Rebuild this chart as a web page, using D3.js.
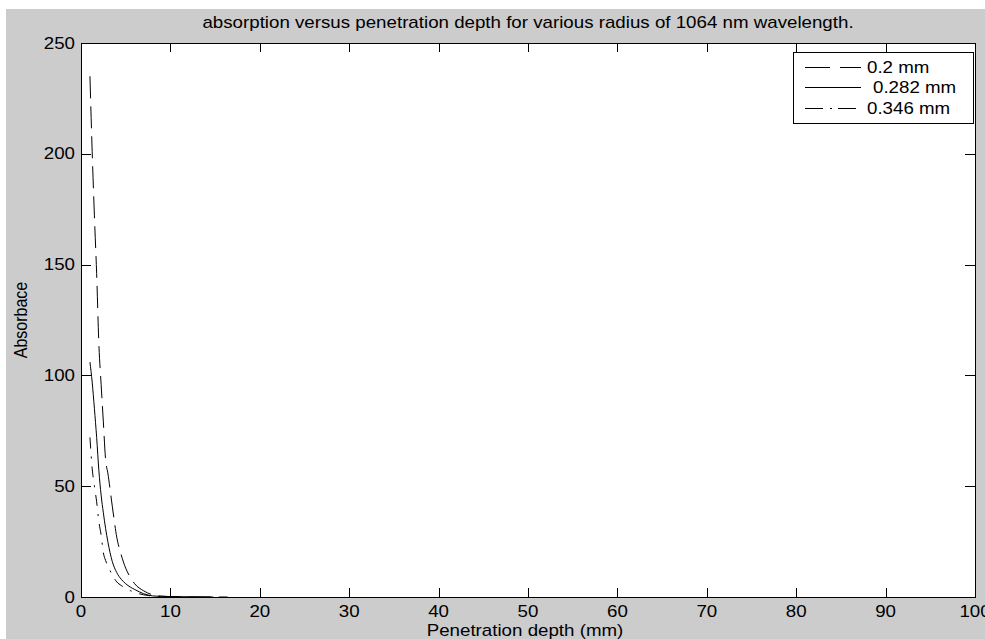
<!DOCTYPE html>
<html>
<head>
<meta charset="utf-8">
<script src="https://cdnjs.cloudflare.com/ajax/libs/d3/7.8.5/d3.min.js"></script>
<style>
	body { margin: 0; background: #ffffff; }
	text { font-family: "Liberation Sans", Arial, sans-serif; font-size: 16px; fill: #000000; }
</style>
</head>
<body>
<svg id="svg_canvas" width="985" height="639"></svg>
<script>
// values
var depth   = [1, 1.25, 1.5, 1.75, 2, 2.25, 2.5, 2.75, 3, 3.5, 4, 4.5, 5, 5.5, 6, 7, 8, 9, 10, 12, 14.8, 16.4];
var abs02   = [235, 201, 172, 146, 114, 96, 79, 62, 56, 41, 27, 19, 13, 9, 6, 2.8, 1, 0.4, 0.2, 0.05, 0, 0];
var abs0282 = [106, 97, 85, 72, 57, 46, 38, 31, 25, 16, 11, 8, 6, 4.5, 3.4, 1.5, 0.5, 0.3, 0.2, 0.1, 0, null];
var abs0346 = [72, 58, 50, 43, 34, 28, 20, 16.5, 14, 10, 6.8, 5.2, 3.9, 2.9, 2.1, 1.0, 0.4, 0.1, 0.05, 0, null, null];

var seriesNames = ["0.2 mm", "0.282 mm", "0.346 mm"];
var seriesValues = [abs02, abs0282, abs0346];

var xTicks = [0, 10, 20, 30, 40, 50, 60, 70, 80, 90, 100];
var yTicks = [0, 50, 100, 150, 200, 250];

var titleText = "absorption versus penetration depth for various radius of 1064 nm wavelength.";
var xLabel = "Penetration depth (mm)";
var yLabel = "Absorbace";

// the picture is a little stretched sideways, text too
var stretch = 1.17;
// dash styles: on the curves, and in the legend samples
var curveDash  = ["22,8", null, "11,8,2,8"];
var legendDash = ["25,10", null, "18,7,2,6"];

var svgElement = d3.select("#svg_canvas");

var plotLeft = 81, plotRight = 975, plotTop = 43, plotBottom = 597;

var xScale = d3.scaleLinear().domain([0, 100]).range([plotLeft, plotRight]);
var yScale = d3.scaleLinear().domain([0, 250]).range([plotBottom, plotTop]);

var addText = function(str, x, y, anchor, extra){
	var t = svgElement.append("text")
		.attr("transform", "translate(" + x + "," + y + ") scale(" + stretch + ",1)" + (extra || ""))
		.attr("text-anchor", anchor)
		.text(str);
	return t;
};

// figure background
svgElement.append("rect")
	.attr("x", 6).attr("y", 9)
	.attr("width", 979).attr("height", 630)
	.style("fill", "#cccccc");

// axes area
svgElement.append("rect")
	.attr("x", plotLeft).attr("y", plotTop)
	.attr("width", plotRight - plotLeft).attr("height", plotBottom - plotTop)
	.style("fill", "#ffffff");

// curves
for(var s = 0; s < seriesValues.length; s++){
	var pts = [];
	for(var i = 0; i < depth.length; i++){
		if(seriesValues[s][i] !== null) pts.push([depth[i], seriesValues[s][i]]);
	}
	var line = d3.line()
		.x(function(d){ return xScale(d[0]); })
		.y(function(d){ return yScale(d[1]); })
		.curve(d3.curveMonotoneX);
	svgElement.append("path")
		.attr("d", line(pts))
		.attr("fill", "none")
		.attr("stroke", "#000000")
		.attr("stroke-width", 1)
		.attr("stroke-dasharray", curveDash[s]);
}

// ticks, mirrored on all four sides, pointing in
var tickLen = 9;
var ticks = svgElement.append("g").attr("stroke", "#000000").attr("stroke-width", 1);
for(var i = 0; i < xTicks.length; i++){
	var tx = Math.round(xScale(xTicks[i])) + 0.5;
	ticks.append("line").attr("x1", tx).attr("x2", tx).attr("y1", plotBottom).attr("y2", plotBottom - tickLen);
	ticks.append("line").attr("x1", tx).attr("x2", tx).attr("y1", plotTop).attr("y2", plotTop + tickLen);
	addText(xTicks[i], xScale(xTicks[i]), 617, "middle");
}
for(var j = 0; j < yTicks.length; j++){
	var ty = Math.round(yScale(yTicks[j])) + 0.5;
	ticks.append("line").attr("x1", plotLeft).attr("x2", plotLeft + tickLen + 1).attr("y1", ty).attr("y2", ty);
	ticks.append("line").attr("x1", plotRight).attr("x2", plotRight - tickLen - 1).attr("y1", ty).attr("y2", ty);
	addText(yTicks[j], 75, yScale(yTicks[j]), "end").attr("dy", "0.35em");
}

// box
svgElement.append("rect")
	.attr("x", plotLeft + 0.5).attr("y", plotTop + 0.5)
	.attr("width", plotRight - plotLeft).attr("height", plotBottom - plotTop)
	.attr("fill", "none")
	.attr("stroke", "#000000")
	.attr("stroke-width", 1);

// titles
addText(titleText, (plotLeft + plotRight) / 2, 28, "middle");
addText(xLabel, 525, 636, "middle");
addText(yLabel, 27, (plotTop + plotBottom) / 2, "middle", " rotate(-90)");

// legend
var legendBox = svgElement.append("g");
legendBox.append("rect")
	.attr("x", 793.5).attr("y", 52.5)
	.attr("width", 180).attr("height", 71)
	.attr("fill", "#ffffff")
	.attr("stroke", "#000000")
	.attr("stroke-width", 1);
var legendRows = [67.5, 87.5, 108.5];
var legendTextX = [867, 873, 867];
for(var k = 0; k < seriesNames.length; k++){
	legendBox.append("line")
		.attr("x1", 805).attr("x2", 861)
		.attr("y1", legendRows[k]).attr("y2", legendRows[k])
		.attr("stroke", "#000000")
		.attr("stroke-width", 1)
		.attr("stroke-dasharray", legendDash[k]);
	addText(seriesNames[k], legendTextX[k], legendRows[k], "start").attr("dy", "0.35em");
}
</script>
</body>
</html>
